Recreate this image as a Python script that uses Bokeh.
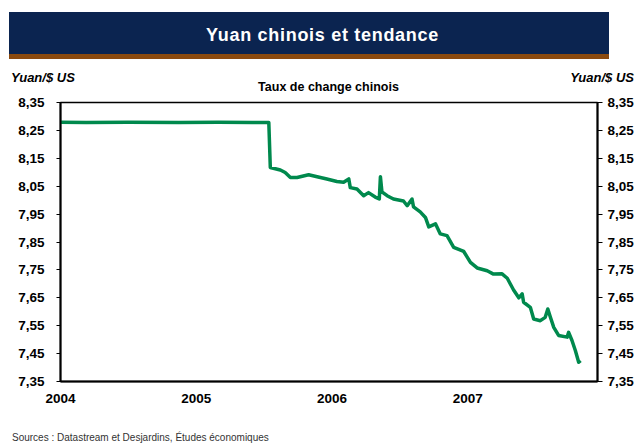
import pandas as pd
from bokeh.plotting import figure
from bokeh.layouts import column
from bokeh.models import Div, FixedTicker, CustomJSTickFormatter, LinearAxis, Range1d, ColumnDataSource
from bokeh.embed import file_html
from bokeh.resources import INLINE

# ---- data ----
dates = ["2004-01-01", "2004-03-10", "2004-07-01", "2004-11-15", "2005-03-01", "2005-06-01", "2005-07-15",
         "2005-07-19", "2005-08-15", "2005-08-28", "2005-09-11", "2005-09-29", "2005-10-30", "2005-11-22",
         "2005-12-18", "2006-01-14", "2006-02-01", "2006-02-15", "2006-02-19", "2006-03-09", "2006-03-27",
         "2006-04-09", "2006-04-27", "2006-05-08", "2006-05-11", "2006-05-15", "2006-05-29", "2006-06-15",
         "2006-07-12", "2006-07-22", "2006-08-04", "2006-08-08", "2006-08-26", "2006-09-09", "2006-09-18",
         "2006-10-06", "2006-10-19", "2006-11-06", "2006-11-24", "2006-12-21", "2007-01-08", "2007-01-26",
         "2007-02-22", "2007-03-11", "2007-04-03", "2007-04-17", "2007-05-04", "2007-05-18", "2007-05-27",
         "2007-05-31", "2007-06-18", "2007-06-27", "2007-07-15", "2007-07-28", "2007-08-04", "2007-08-11",
         "2007-08-20", "2007-09-02", "2007-09-25", "2007-09-29", "2007-10-08", "2007-10-17", "2007-10-26",
         "2007-10-31"]
rates = [8.279, 8.278, 8.279, 8.278, 8.279, 8.278, 8.278,
         8.117, 8.108, 8.099, 8.081, 8.081, 8.091, 8.084,
         8.076, 8.067, 8.064, 8.076, 8.045, 8.040, 8.016,
         8.027, 8.011, 8.004, 8.084, 8.030, 8.016, 8.004,
         7.997, 7.980, 8.004, 7.976, 7.958, 7.938, 7.904,
         7.915, 7.879, 7.873, 7.831, 7.816, 7.777, 7.757,
         7.747, 7.735, 7.736, 7.720, 7.678, 7.650, 7.664,
         7.634, 7.616, 7.574, 7.568, 7.580, 7.610, 7.580,
         7.544, 7.515, 7.509, 7.526, 7.497, 7.461, 7.419,
         7.425]
year_ticks = [2004, 2005, 2006, 2007]
rate_ticks = [7.35, 7.45, 7.55, 7.65, 7.75, 7.85, 7.95, 8.05, 8.15, 8.25, 8.35]

title_text = "Yuan chinois et tendance"
subtitle_text = "Taux de change chinois"
unit_text = "Yuan/$ US"
source_text = "Sources : Datastream et Desjardins, Études économiques"

# decimal years
d = pd.to_datetime(dates)
days_in_year = [366 if dt.is_leap_year else 365 for dt in d]
xdec = [dt.year + (dt.dayofyear - 1) / n for dt, n in zip(d, days_in_year)]
src = ColumnDataSource(dict(x=xdec, y=rates))

FONT = "Liberation Sans"
FF = f"font-family:'{FONT}', Arial, sans-serif;"

banner = Div(
    text=(f'<div style="position:relative; width:636px; height:64px; margin:0; padding:0;">'
          f'<div style="position:absolute; top:12px; left:9px; width:600px; height:47px; '
          f'padding-left:27px; background:#0B2450; border-bottom:5px solid #8B4A0F; color:#ffffff; '
          f'{FF} font-weight:bold; font-size:18px; letter-spacing:0.7px; '
          f'text-align:center; line-height:47px;">{title_text}</div></div>'),
    width=636, height=64, margin=(0, 0, 0, 0))

header = Div(
    text=(f'<div style="position:relative; width:636px; height:30px; margin:0; padding:0; color:#000; {FF}">'
          f'<div style="position:absolute; left:11px; top:6px; font-size:13px; line-height:16px; '
          f'font-weight:bold; font-style:italic; white-space:nowrap;">{unit_text}</div>'
          f'<div style="position:absolute; right:2px; top:6px; font-size:13px; line-height:16px; '
          f'font-weight:bold; font-style:italic; white-space:nowrap;">{unit_text}</div>'
          f'<div style="position:absolute; left:228px; width:201px; top:16px; font-size:12.5px; '
          f'line-height:14px; font-weight:bold; text-align:center; white-space:nowrap;">{subtitle_text}</div>'
          f'</div>'),
    width=636, height=30, margin=(0, 0, 0, 0))

p = figure(width=636, height=336, output_backend="svg", toolbar_location=None,
           x_range=Range1d(2004, 2007.955), y_range=Range1d(7.35, 8.35),
           min_border_left=60, min_border_right=39, min_border_top=8, min_border_bottom=49)
p.margin = (0, 0, 0, 0)
p.grid.visible = False
p.outline_line_color = "black"
p.outline_line_width = 1.5
p.background_fill_color = "white"
p.border_fill_color = "white"

p.line("x", "y", source=src, line_color="#00894D", line_width=3.5, line_join="round")

fmt = CustomJSTickFormatter(code="return tick.toFixed(2).replace('.', ',');")

# x axis
xa = p.xaxis[0]
xa.ticker = FixedTicker(ticks=year_ticks)
xa.major_tick_out = 0
xa.major_tick_in = 0
xa.minor_tick_out = 0
xa.minor_tick_in = 0
xa.major_label_standoff = 12
xa.axis_line_width = 2
xa.axis_line_color = "black"
xa.major_label_text_font = FONT
xa.major_label_text_font_style = "bold"
xa.major_label_text_font_size = "13.5px"
xa.major_label_text_color = "black"

# left y axis
ya = p.yaxis[0]
ya.ticker = FixedTicker(ticks=rate_ticks)
ya.formatter = fmt
ya.major_tick_out = 4
ya.major_tick_in = 0
ya.minor_tick_out = 0
ya.minor_tick_in = 0
ya.major_label_standoff = 12
ya.axis_line_width = 2
ya.major_label_text_font = FONT
ya.major_label_text_font_style = "bold"
ya.major_label_text_font_size = "13.5px"
ya.major_label_text_color = "black"

# right y axis
ra = LinearAxis(ticker=FixedTicker(ticks=rate_ticks), formatter=fmt)
ra.major_tick_out = 5
ra.major_tick_in = 0
ra.minor_tick_out = 0
ra.minor_tick_in = 0
ra.major_label_standoff = 5
ra.axis_line_width = 2
ra.major_label_text_font = FONT
ra.major_label_text_font_style = "bold"
ra.major_label_text_font_size = "13.5px"
ra.major_label_text_color = "black"
p.add_layout(ra, "right")

footer = Div(
    text=(f'<div style="position:relative; width:636px; height:15px; margin:0; padding:0;">'
          f'<div style="position:absolute; left:12px; top:0px; font-size:10px; line-height:15px; '
          f'color:#333333; white-space:nowrap; {FF}">{source_text}</div></div>'),
    width=636, height=15, margin=(0, 0, 0, 0))

layout = column(banner, header, p, footer, spacing=0)
open("out.html", "w").write(file_html(layout, INLINE))
